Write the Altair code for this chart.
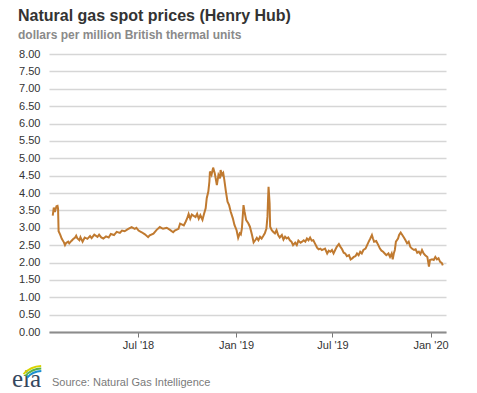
import altair as alt
import pandas as pd

TITLE = "Natural gas spot prices (Henry Hub)"
SUBTITLE = "dollars per million British thermal units"
SOURCE = "Source: Natural Gas Intelligence"
LOGO = "eia"

dates = [
    "2018-01-22", "2018-01-24", "2018-01-25", "2018-01-26", "2018-01-29", "2018-01-31",
    "2018-02-01", "2018-02-02", "2018-02-05", "2018-02-08", "2018-02-12", "2018-02-14",
    "2018-02-16", "2018-02-20", "2018-02-22", "2018-02-26", "2018-03-01", "2018-03-05",
    "2018-03-07", "2018-03-09", "2018-03-13", "2018-03-15", "2018-03-19", "2018-03-23",
    "2018-03-28", "2018-04-02", "2018-04-05", "2018-04-10", "2018-04-16", "2018-04-19",
    "2018-04-23", "2018-04-27", "2018-05-02", "2018-05-07", "2018-05-11", "2018-05-17",
    "2018-05-22", "2018-05-28", "2018-06-01", "2018-06-06", "2018-06-12", "2018-06-19",
    "2018-06-25", "2018-06-28", "2018-07-02", "2018-07-08", "2018-07-14", "2018-07-20",
    "2018-07-23", "2018-07-30", "2018-08-05", "2018-08-11", "2018-08-17", "2018-08-24",
    "2018-08-30", "2018-09-05", "2018-09-08", "2018-09-15", "2018-09-18", "2018-09-25",
    "2018-09-28", "2018-10-01", "2018-10-04", "2018-10-07", "2018-10-10", "2018-10-17",
    "2018-10-20", "2018-10-23", "2018-10-26", "2018-10-30", "2018-11-02", "2018-11-05",
    "2018-11-07", "2018-11-10", "2018-11-12", "2018-11-13", "2018-11-16", "2018-11-19",
    "2018-11-22", "2018-11-26", "2018-11-29", "2018-12-02", "2018-12-03", "2018-12-06",
    "2018-12-08", "2018-12-10", "2018-12-13", "2018-12-16", "2018-12-19", "2018-12-22",
    "2018-12-26", "2018-12-29", "2019-01-02", "2019-01-05", "2019-01-08", "2019-01-10",
    "2019-01-12", "2019-01-15", "2019-01-17", "2019-01-20", "2019-01-24", "2019-01-27",
    "2019-01-31", "2019-02-03", "2019-02-06", "2019-02-09", "2019-02-12", "2019-02-15",
    "2019-02-18", "2019-02-21", "2019-02-24", "2019-02-27", "2019-03-01", "2019-03-02",
    "2019-03-03", "2019-03-05", "2019-03-06", "2019-03-09", "2019-03-12", "2019-03-15",
    "2019-03-18", "2019-03-21", "2019-03-24", "2019-03-28", "2019-03-31", "2019-04-03",
    "2019-04-06", "2019-04-09", "2019-04-12", "2019-04-15", "2019-04-18", "2019-04-22",
    "2019-04-25", "2019-04-28", "2019-05-02", "2019-05-05", "2019-05-08", "2019-05-11",
    "2019-05-14", "2019-05-17", "2019-05-20", "2019-05-23", "2019-05-26", "2019-05-29",
    "2019-06-02", "2019-06-05", "2019-06-08", "2019-06-11", "2019-06-14", "2019-06-17",
    "2019-06-21", "2019-06-24", "2019-06-27", "2019-06-30", "2019-07-03", "2019-07-06",
    "2019-07-09", "2019-07-13", "2019-07-16", "2019-07-19", "2019-07-22", "2019-07-25",
    "2019-07-28", "2019-08-01", "2019-08-04", "2019-08-07", "2019-08-10", "2019-08-13",
    "2019-08-16", "2019-08-19", "2019-08-22", "2019-08-25", "2019-08-28", "2019-09-01",
    "2019-09-04", "2019-09-07", "2019-09-10", "2019-09-13", "2019-09-15", "2019-09-17",
    "2019-09-21", "2019-09-25", "2019-09-28", "2019-10-01", "2019-10-04", "2019-10-07",
    "2019-10-10", "2019-10-14", "2019-10-17", "2019-10-20", "2019-10-22", "2019-10-24",
    "2019-10-26", "2019-10-28", "2019-11-01", "2019-11-03", "2019-11-06", "2019-11-09",
    "2019-11-12", "2019-11-15", "2019-11-18", "2019-11-21", "2019-11-24", "2019-11-27",
    "2019-12-01", "2019-12-04", "2019-12-07", "2019-12-10", "2019-12-13", "2019-12-16",
    "2019-12-19", "2019-12-22", "2019-12-26", "2019-12-29", "2019-12-31", "2020-01-04",
    "2020-01-07", "2020-01-10", "2020-01-13", "2020-01-16", "2020-01-19", "2020-01-22",
    "2020-01-24",
]

prices = [
    3.35, 3.58, 3.52, 3.45, 3.62, 3.63,
    3.55, 2.90, 2.80, 2.68, 2.58, 2.50,
    2.56, 2.60, 2.55, 2.62, 2.67, 2.72,
    2.77, 2.70, 2.64, 2.73, 2.60, 2.72,
    2.68, 2.76, 2.70, 2.80, 2.74, 2.80,
    2.72, 2.69, 2.75, 2.72, 2.82, 2.79,
    2.88, 2.85, 2.92, 2.90, 2.96, 3.02,
    2.97, 3.00, 2.92, 2.87, 2.81, 2.73,
    2.78, 2.83, 2.94, 3.02, 2.97, 3.00,
    2.94, 2.87, 2.92, 2.97, 3.12, 3.07,
    3.16, 3.26, 3.40, 3.26, 3.38, 3.31,
    3.40, 3.26, 3.36, 3.23, 3.40, 3.56,
    3.85, 4.04, 4.33, 4.62, 4.52, 4.73,
    4.57, 4.23, 4.52, 4.42, 4.66, 4.52,
    4.57, 4.38, 4.04, 3.75, 3.65, 3.46,
    3.27, 3.08, 2.93, 2.71, 2.84, 2.81,
    2.98, 3.65, 3.46, 3.22, 3.13, 3.03,
    2.79, 2.58, 2.64, 2.71, 2.64, 2.74,
    2.69, 2.76, 2.84, 2.98, 3.32, 3.80,
    4.18, 3.70, 3.03, 2.93, 2.88, 2.84,
    2.93, 2.79, 2.72, 2.79, 2.66, 2.74,
    2.69, 2.72, 2.64, 2.60, 2.50, 2.57,
    2.50, 2.63, 2.57, 2.60, 2.64, 2.60,
    2.69, 2.64, 2.72, 2.63, 2.64, 2.55,
    2.43, 2.38, 2.40, 2.36, 2.38, 2.40,
    2.26, 2.34, 2.31, 2.36, 2.26, 2.36,
    2.45, 2.53, 2.45, 2.38, 2.28, 2.26,
    2.18, 2.21, 2.09, 2.12, 2.16, 2.18,
    2.26, 2.21, 2.31, 2.26, 2.36, 2.40,
    2.50, 2.60, 2.69, 2.79, 2.69, 2.60,
    2.62, 2.50, 2.40, 2.34, 2.31, 2.26,
    2.21, 2.26, 2.16, 2.26, 2.09, 2.26,
    2.36, 2.60, 2.69, 2.79, 2.86, 2.79,
    2.72, 2.64, 2.55, 2.60, 2.45, 2.40,
    2.36, 2.38, 2.28, 2.31, 2.24, 2.36,
    2.26, 2.21, 2.16, 1.88, 2.07, 2.09,
    2.07, 2.16, 2.09, 2.12, 2.02, 1.99,
    1.92,
]

y_ticks = [i * 0.5 for i in range(17)]
x_tick_dates = [(2018, 7), (2019, 1), (2019, 7), (2020, 1)]

FONT = "Liberation Sans"
df = pd.DataFrame({"date": dates, "price": prices})
one = pd.DataFrame({"k": [0]})

W, H = 397, 278

line = alt.Chart(df).mark_line(color="#c07a30", strokeWidth=2).encode(
    x=alt.X(
        "date:T",
        scale=alt.Scale(
            type="utc",
            domain=[
                alt.DateTime(year=2018, month=1, date=15, utc=True),
                alt.DateTime(year=2020, month=1, date=30, utc=True),
            ],
        ),
        axis=alt.Axis(
            values=[alt.DateTime(year=y, month=m, date=1, utc=True) for y, m in x_tick_dates],
            labelExpr="utcFormat(datum.value, '%b') + \" '\" + utcFormat(datum.value, '%y')",
            grid=False,
            domainColor="#8c8c8c",
            domainWidth=2,
            tickColor="#777777",
            tickSize=5,
            tickWidth=1,
            labelPadding=2,
            labelFontSize=11,
            labelColor="#333333",
            labelFont=FONT,
            title=None,
        ),
    ),
    y=alt.Y(
        "price:Q",
        scale=alt.Scale(domain=[0, 8], nice=False, zero=True),
        axis=alt.Axis(
            values=y_ticks,
            format=".2f",
            grid=True,
            gridColor="#d6d6d6",
            gridWidth=1.5,
            domain=False,
            ticks=False,
            labelPadding=9,
            labelFontSize=11,
            labelColor="#333333",
            labelFont=FONT,
            title=None,
        ),
    ),
)

title = alt.Chart(one).mark_text(
    align="left", baseline="alphabetic", fontSize=16, fontWeight="bold",
    font=FONT, color="#333333",
).encode(x=alt.value(-31), y=alt.value(-33), text=alt.value(TITLE))

subtitle = alt.Chart(one).mark_text(
    align="left", baseline="alphabetic", fontSize=12, fontWeight="bold",
    font=FONT, color="#8a8a8a",
).encode(x=alt.value(-31), y=alt.value(-15), text=alt.value(SUBTITLE))

source = alt.Chart(one).mark_text(
    align="left", baseline="alphabetic", fontSize=11,
    font=FONT, color="#7a7a7a",
).encode(x=alt.value(3), y=alt.value(332), text=alt.value(SOURCE))

logo = alt.Chart(one).mark_text(
    align="left", baseline="alphabetic", fontSize=25,
    font="Liberation Serif", color="#34475e",
).encode(x=alt.value(-37), y=alt.value(333), text=alt.value(LOGO))

arc_specs = [("#d9d400", 24, 26), ("#5cb247", 21.5, 23.5), ("#1a8fd0", 19, 21)]
arcs = [
    alt.Chart(one).mark_arc(
        x=-7, y=337, radius=r2, radius2=r1, theta=5.45, theta2=6.25,
    ).encode(color=alt.value(c))
    for c, r1, r2 in arc_specs
]

chart = alt.layer(line, title, subtitle, source, logo, *arcs).properties(
    width=W,
    height=H,
    autosize=alt.AutoSizeParams(type="none"),
    padding={"left": 41, "top": 46, "right": 23, "bottom": 61},
).configure_view(strokeWidth=0)

chart.save("out.html", embed_options={"renderer": "svg", "actions": False})
